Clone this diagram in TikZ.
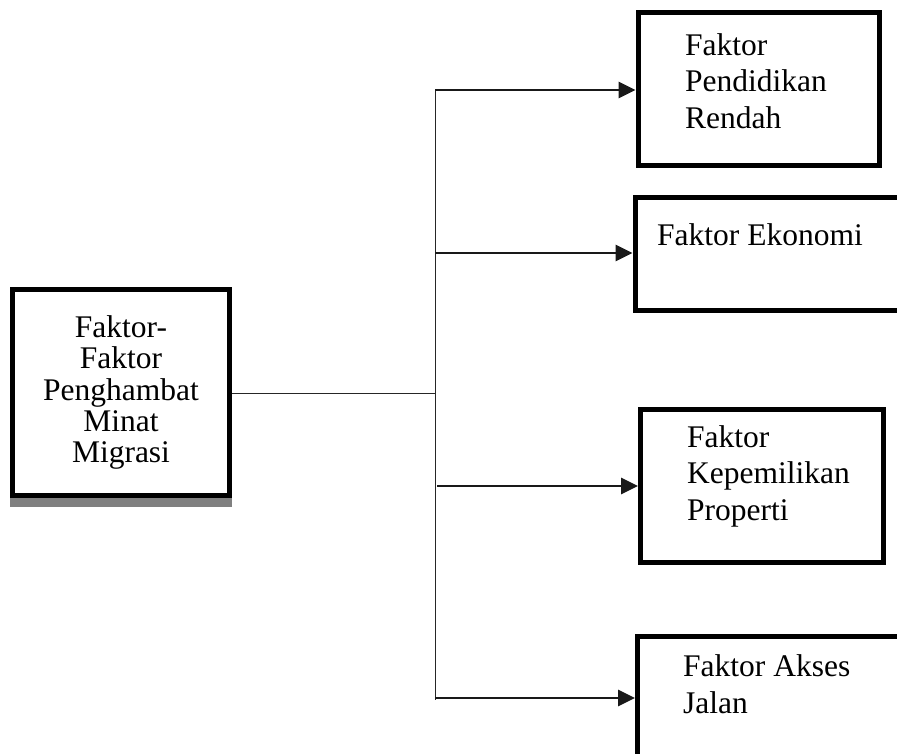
\documentclass[tikz,border=0pt]{standalone}
\usepackage{fontspec}
\setmainfont{Liberation Serif}
\usetikzlibrary{arrows.meta}
\begin{document}
\begin{tikzpicture}[x=1pt,y=-1pt,
  box/.style={draw=black,line width=5pt,fill=white,inner sep=0pt},
  lbl/.style={inner sep=0pt,align=left,anchor=base west,font=\rmfamily\fontsize{31.5}{36.5}\selectfont},
  conn/.style={draw=black!85,line width=1pt},
  arr/.style={draw=black!90,line width=2.8pt,-{Triangle[length=17pt,width=16pt]}}]
\useasboundingbox (0,0) rectangle (897,753);
% left box with shadow
\fill[black!50] (10,300) rectangle (232,507);
\node[box,minimum width=217pt,minimum height=206pt,align=center,
  font=\rmfamily\fontsize{31.5}{31.3}\selectfont] (src) at (121,392.5)
  {Faktor-\\Faktor\\Penghambat\\Minat\\Migrasi};
% right boxes
\node[box,minimum width=241pt,minimum height=153pt] (b1) at (758.5,89) {};
\node[box,minimum width=270pt,minimum height=113.5pt] (b2) at (770,253.75) {};
\node[box,minimum width=242.5pt,minimum height=153pt] (b3) at (761.75,486) {};
\node[box,minimum width=267.5pt,minimum height=144pt] (b4) at (771.25,708) {};
% labels (base = baseline of last line)
\node[lbl] (t1) at (685,128.3) {Faktor\\Pendidikan\\Rendah};
\node[lbl] (t2) at (657,245) {Faktor Ekonomi};
\node[lbl] (t3) at (687,520) {Faktor\\Kepemilikan\\Properti};
\node[lbl] (t4) at (683,713) {Faktor Akses\\Jalan};
% connectors
\coordinate (j) at (435,393);
\coordinate (c1) at (435,90);
\coordinate (c2) at (435,253);
\coordinate (c3) at (437,486);
\coordinate (c4) at (435,698);
\coordinate (vb) at (435,700);
\draw[conn] (src.east |- j) -- (j);
\draw[conn] (c1) -- (vb);
\draw[arr] (c1) -- (c1 -| b1.west);
\draw[arr] (c2) -- (c2 -| b2.west);
\draw[arr] (c3) -- (c3 -| b3.west);
\draw[arr] (c4) -- (c4 -| b4.west);
\end{tikzpicture}
\end{document}
